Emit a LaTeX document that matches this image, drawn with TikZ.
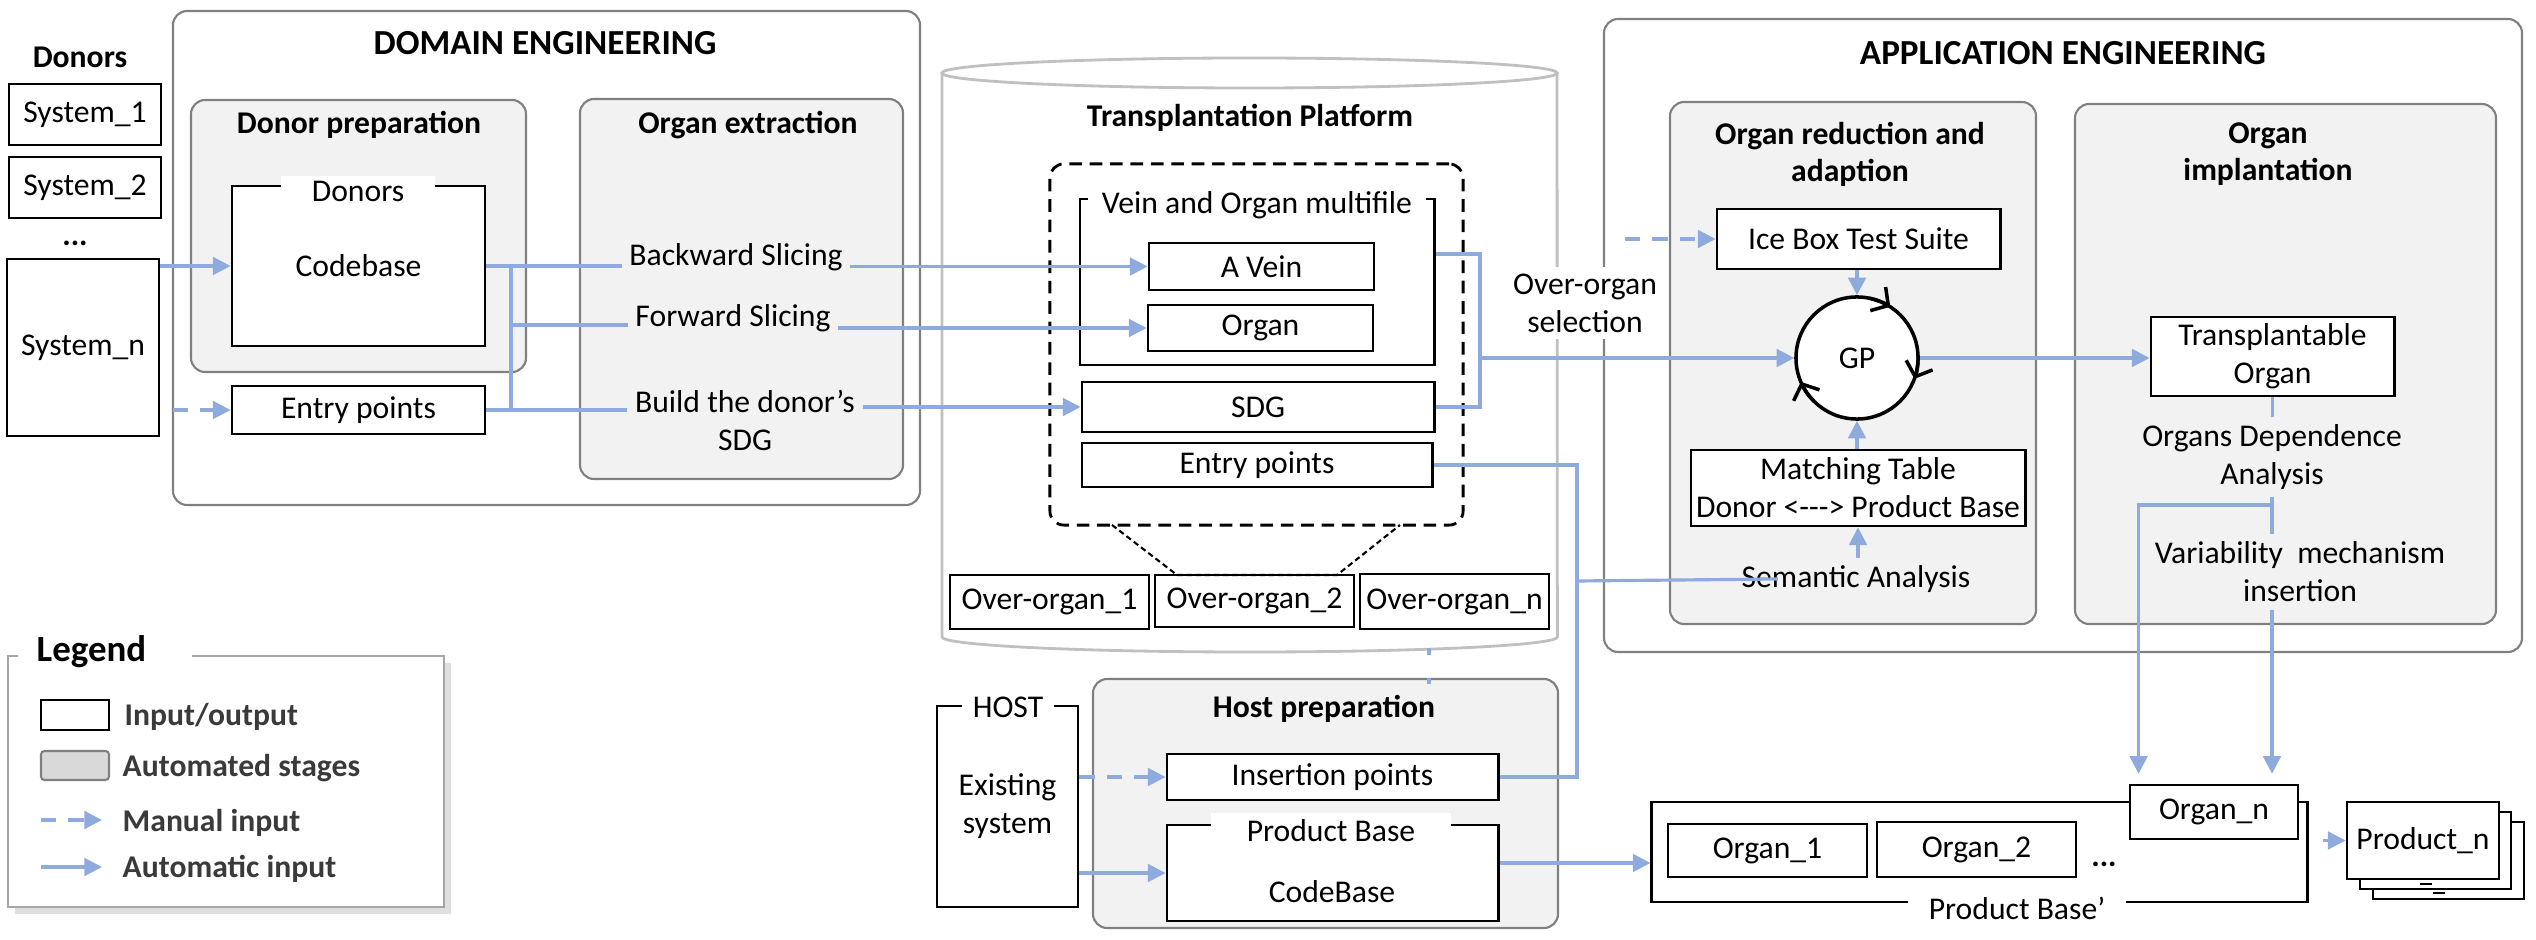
\documentclass[tikz,border=0pt]{standalone}
\usepackage{fontspec}
\setmainfont{Carlito}
\usepackage{tikz}
\usetikzlibrary{arrows.meta, positioning, calc, shadows}

\definecolor{flowblue}{HTML}{8FAADC}
\definecolor{stagefill}{HTML}{F2F2F2}
\definecolor{stageline}{HTML}{808080}
\definecolor{cylline}{HTML}{C0C0C0}
\definecolor{legendline}{HTML}{A6A6A6}
\definecolor{legendfill}{HTML}{D9D9D9}
\definecolor{legendtext}{HTML}{3A3A3A}

\begin{document}
\begin{tikzpicture}[x=0.01cm, y=-0.01cm,
  every node/.style={font=\fontsize{9}{10.8}\selectfont},
  iobox/.style={draw, fill=white, line width=0.8pt, inner sep=0pt, align=center},
  labelgap/.style={fill=white, inner sep=0pt},
  stagebox/.style={draw=stageline, fill=stagefill, line width=0.6pt, rounded corners=4pt},
  areabox/.style={draw=stageline, line width=0.6pt, rounded corners=4pt},
  areatitle/.style={font=\fontsize{10}{12}\selectfont\bfseries},
  subtitle/.style={font=\fontsize{9}{10.5}\selectfont\bfseries, align=center},
  boldtext/.style={font=\fontsize{9}{10.8}\selectfont\bfseries},
  steptext/.style={align=center, inner sep=2pt},
  legendtext/.style={font=\fontsize{9}{10.8}\selectfont\bfseries, text=legendtext, anchor=west, inner sep=0pt},
  flowline/.style={draw=flowblue, line width=0.9pt},
  flowarrow/.style={flowline, -{Triangle[length=5pt, width=5pt]}},
  manualarrow/.style={flowarrow, dash pattern=on 4.3pt off 3.5pt},
  gptip/.style={line width=1pt, -{Straight Barb[length=3.5pt, width=8pt]}},
]
\useasboundingbox (0,0) rectangle (2536,940);

% Donor systems
\node[boldtext] (donorslbl) at (80,57) {Donors};
\node[iobox, minimum width=1.52cm, minimum height=0.61cm] (sys1) at (85,114.5) {System\_1};
\node[iobox, minimum width=1.52cm, minimum height=0.61cm] (sys2) at (85,187.5) {System\_2};
\node[boldtext] (sysdots) at (75,243) {...};
\node[iobox, minimum width=1.52cm, minimum height=1.77cm] (sysn) at (83,347.5) {System\_n};

% Domain engineering
\draw[areabox] (173,11) rectangle (920,505);
\node[areatitle] (domaintitle) at (545,43) {DOMAIN ENGINEERING};
\draw[stagebox] (191,100) rectangle (526,372);
\node[subtitle] (preptitle) at (359,125) {Donor preparation};
\node[iobox, minimum width=2.53cm, minimum height=1.6cm] (codebase) at (358.5,266) {Codebase};
\node[labelgap, minimum width=1.54cm, minimum height=0.3cm] (codebaselbl) at (358,191) {Donors};
\node[iobox, minimum width=2.53cm, minimum height=0.48cm] (entry1) at (358.5,410) {Entry points};
\draw[stagebox] (580,99) rectangle (903,479);
\node[subtitle] (extracttitle) at (748,125) {Organ extraction};
\node[steptext] (bwd) at (736,257) {Backward Slicing};
\node[steptext] (fwd) at (733,318) {Forward Slicing};
\node[steptext] (build) at (745,420) {Build the donor’s\\SDG};

\coordinate (manualdonor) at (173,410);
\coordinate (slicejoin) at (511,266);
\coordinate (fwdjoin) at (511,325);
\draw[flowarrow] (sysn.east |- codebase.west) -- (codebase.west);
\draw[manualarrow] (manualdonor) -- (entry1.west);
\draw[flowline] (codebase.east) -- (codebase.east -| bwd.west);
\draw[flowline] (slicejoin) |- (entry1.east);
\draw[flowline] (fwdjoin) -- (fwdjoin -| fwd.west);
\draw[flowline] (entry1.east) -- (entry1.east -| build.west);

% Transplantation platform
\draw[cylline, line width=0.8pt, fill=white] (942,73) -- (942,637)
  arc[start angle=180, end angle=360, x radius=3.075cm, y radius=0.15cm] -- (1557,73);
\draw[cylline, line width=0.8pt] (1249.5,73) ellipse[x radius=3.075cm, y radius=0.15cm];
\node[subtitle] (platformtitle) at (1250,118) {Transplantation Platform};
\node[draw, dash pattern=on 3.6pt off 2.2pt, rounded corners=4pt, line width=0.8pt,
  minimum width=4.13cm, minimum height=3.61cm] (overorgan) at (1256.5,344.5) {};
\node[iobox, minimum width=3.54cm, minimum height=1.66cm] (multifile) at (1257,282) {};
\node[labelgap, minimum width=3.38cm, minimum height=0.3cm] (multifilelbl) at (1257,205) {Vein and Organ multifile};
\node[iobox, minimum width=2.25cm, minimum height=0.47cm] (avein) at (1261.5,266.5) {A Vein};
\node[iobox, minimum width=2.25cm, minimum height=0.46cm] (organ) at (1260.5,328) {Organ};
\node[iobox, minimum width=3.52cm, minimum height=0.5cm] (sdg) at (1258,407) {SDG};
\node[iobox, minimum width=3.5cm, minimum height=0.44cm] (entry2) at (1257,465) {Entry points};
\node[iobox, minimum width=1.99cm, minimum height=0.54cm] (oo1) at (1049.5,602) {Over-organ\_1};
\node[iobox, minimum width=1.99cm, minimum height=0.52cm] (oo2) at (1254.5,601) {Over-organ\_2};
\node[iobox, minimum width=1.89cm, minimum height=0.55cm] (oon) at (1454.5,601.5) {Over-organ\_n};
\draw[dash pattern=on 1.6pt off 1pt, line width=0.6pt] (1112,525) -- (1177,575) -- (1337,575) -- (1400,525);

\draw[flowarrow] (bwd.east |- avein.west) -- (avein.west);
\draw[flowarrow] (fwd.east |- organ.west) -- (organ.west);
\draw[flowarrow] (build.east |- sdg.west) -- (sdg.west);

% Application engineering
\draw[areabox] (1604,19) rectangle (2522,652);
\node[areatitle] (apptitle) at (2063,53) {APPLICATION ENGINEERING};
\draw[stagebox] (1670,102) rectangle (2036,624);
\node[subtitle] (reducetitle) at (1850,154) {Organ reduction and\\adaption};
\draw[stagebox] (2075,104) rectangle (2496,624);
\node[subtitle] (implanttitle) at (2268,154) {Organ\\implantation};
\node[steptext, fill=white] (selection) at (1585,303) {Over-organ\\selection};

\node[iobox, minimum width=2.83cm, minimum height=0.6cm] (icebox) at (1858.5,239) {Ice Box Test Suite};
\node[draw, circle, fill=white, line width=1pt, minimum size=1.22cm, inner sep=0pt] (gp) at (1857,358) {GP};
\draw[gptip] (gp.center) ++(78:0.61cm) arc[start angle=78, end angle=57, radius=0.61cm];
\draw[gptip] (gp.center) ++(2:0.61cm) arc[start angle=2, end angle=-20, radius=0.61cm];
\draw[gptip] (gp.center) ++(225:0.61cm) arc[start angle=225, end angle=203, radius=0.61cm];
\node[iobox, minimum width=3.34cm, minimum height=0.76cm] (matching) at (1858,488) {Matching Table\\Donor <{-}{-}{-}> Product Base};
\node[steptext] (semantic) at (1856,579) {Semantic Analysis};
\node[iobox, minimum width=2.43cm, minimum height=0.79cm] (transorgan) at (2272.5,356.5) {Transplantable\\Organ};
\node[steptext] (depend) at (2272,457) {Organs Dependence\\Analysis};
\node[steptext] (variability) at (2300,572) {Variability\ \ mechanism\\insertion};

\coordinate (manualice) at (1625,239);
\coordinate (veinjoin) at (1480,358);
\coordinate (implantsplit) at (2272,505);
\draw[flowline] ([yshift=0.28cm]multifile.east) -| (veinjoin) |- (sdg.east);
\draw[flowarrow] (veinjoin) -- (gp.west);
\draw[manualarrow] (manualice) -- (icebox.west);
\draw[flowarrow] (icebox.south -| gp.north) -- (gp.north);
\draw[flowarrow] (matching.north -| gp.south) -- (gp.south);
\draw[flowarrow] (semantic.north -| matching.south) -- (matching.south);
\draw[flowarrow] (gp.east) -- (gp.east -| transorgan.west);
\draw[flowline] (transorgan.south) -- (transorgan.south |- depend.north);
\draw[flowline] (depend.south) -- (depend.south |- variability.north);

% Host preparation
\draw[stagebox] (1093,679) rectangle (1558,928);
\node[subtitle] (hosttitle) at (1324,709) {Host preparation};
\node[iobox, minimum width=1.41cm, minimum height=2.01cm] (host) at (1007.5,806.5) {Existing\\system};
\node[labelgap, inner xsep=3pt, minimum height=0.3cm] (hostlbl) at (1008,707) {HOST};
\node[iobox, minimum width=3.31cm, minimum height=0.46cm] (insertion) at (1332.5,777) {Insertion points};
\node[iobox, minimum width=3.31cm, minimum height=0.96cm] (pbase) at (1332.5,873) {};
\node[labelgap, minimum width=2.39cm, minimum height=0.36cm] (pbaselbl) at (1331,831) {Product Base};
\node[steptext] (pbasecode) at (1332,892) {CodeBase};
\draw[flowline, dash pattern=on 2pt off 6.5pt] (1429,648) -- (1429,684);

\coordinate (entryriser) at (1577,581);
\draw[manualarrow] (host.east |- insertion.west) -- (insertion.west);
\draw[flowarrow] (host.east |- pbase.west) -- (pbase.west);
\draw[flowline] (insertion.east) -| (entryriser) |- (entry2.east);
\draw[flowline] (entryriser) -- ([xshift=0.44cm]semantic.west);

% Product line output
\node[iobox, minimum width=6.55cm, minimum height=1cm] (pbprime) at (1979.5,852) {};
\node[labelgap, minimum width=2.17cm, minimum height=0.3cm] (pbprimelbl) at (2017,908) {Product Base’};
\node[iobox, minimum width=1.99cm, minimum height=0.53cm] (organ1) at (1767.5,850.5) {Organ\_1};
\node[iobox, minimum width=1.99cm, minimum height=0.55cm] (organ2) at (1976.5,849.5) {Organ\_2};
\node[boldtext] (organdots) at (2104,864) {...};
\node[iobox, minimum width=1.68cm, minimum height=0.54cm] (organn) at (2214,812) {Organ\_n};
\node[iobox, minimum width=1.51cm, minimum height=0.77cm] (prod3) at (2448.5,860.5) {};
\node[iobox, minimum width=1.51cm, minimum height=0.77cm] (prod2) at (2435.5,850.5) {};
\node[iobox, minimum width=1.52cm, minimum height=0.77cm] (prodn) at (2423,840.5) {Product\_n};
\draw[line width=0.8pt] (2420,884) -- (2432,884);
\draw[line width=0.8pt] (2433,893) -- (2445,893);

\draw[flowarrow] ([yshift=0.1cm]pbase.east) -- ([yshift=0.1cm]pbase.east -| pbprime.west);
\draw[flowarrow] ([xshift=0.14cm]pbprime.east |- prodn.west) -- (prodn.west);
\draw[flowarrow, shorten >=2.8pt] (implantsplit) -| ([xshift=0.1cm]organn.north west);
\draw[flowarrow, shorten >=2.8pt] (variability.south -| depend.south) -- (organn.north -| depend.south);

% Legend
\draw[draw=legendline, line width=0.6pt, fill=white,
  drop shadow={opacity=0.25, shadow xshift=2pt, shadow yshift=-2pt}] (8,656) rectangle (444,907);
\node[font=\fontsize{10.5}{12}\selectfont\bfseries, anchor=west, fill=white, text width=1.36cm,
  inner xsep=0.19cm, inner ysep=1pt] (legendlbl) at (17,652) {Legend};
\node[draw, line width=0.8pt, minimum width=0.68cm, minimum height=0.3cm] (swio) at (75,715) {};
\node[draw=stageline, fill=legendfill, line width=0.6pt, rounded corners=1pt,
  minimum width=0.68cm, minimum height=0.29cm] (swstage) at (75,765.5) {};
\node[legendtext] (lgio) at (124,717) {Input/output};
\node[legendtext] (lgstage) at (122,768) {Automated stages};
\node[legendtext] (lgmanual) at (122,823) {Manual input};
\node[legendtext] (lgauto) at (122,869) {Automatic input};
\coordinate (swmanual) at (41,820);
\coordinate (swauto) at (41,867);
\draw[manualarrow] (swmanual) -- ([xshift=-0.2cm]lgmanual.west |- swmanual);
\draw[flowarrow] (swauto) -- ([xshift=-0.2cm]lgauto.west |- swauto);
\end{tikzpicture}
\end{document}
